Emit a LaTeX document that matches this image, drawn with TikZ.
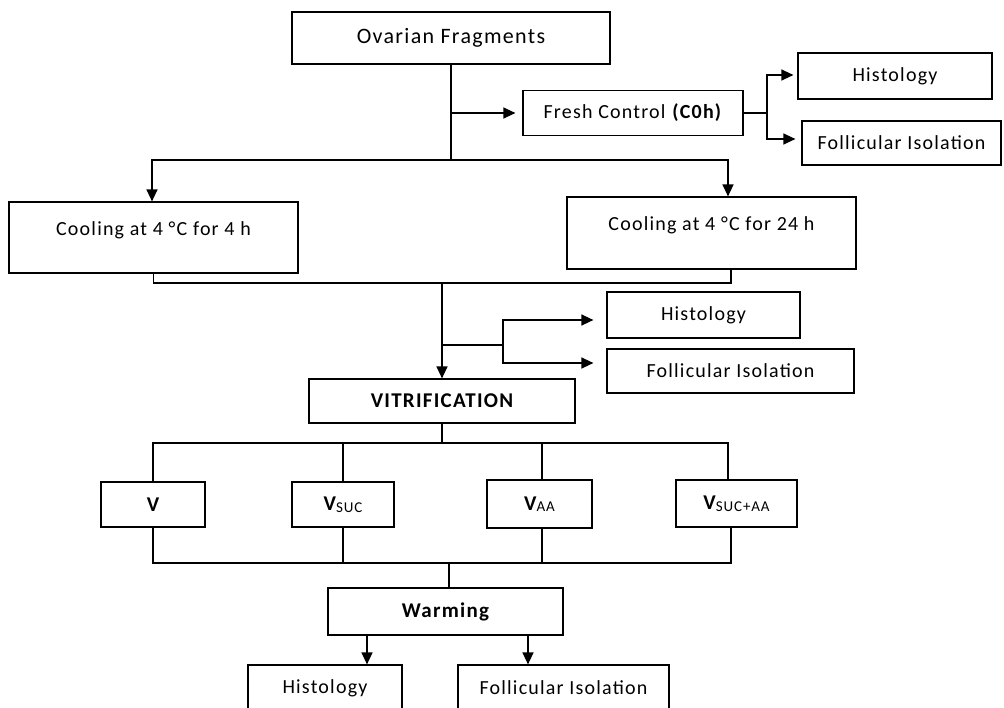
\documentclass[tikz,border=0pt]{standalone}
\usepackage{fontspec}
\setmainfont{Carlito}[LetterSpace=6]
\usetikzlibrary{arrows.meta}
\newcommand{\sub}[1]{\raisebox{-1.5pt}{\fontsize{15}{17}\selectfont\mdseries #1}}
\begin{document}
\begin{tikzpicture}[x=1pt,y=-1pt,
  box/.style 2 args={draw, line width=1.2pt, inner sep=0pt, minimum width=#1, minimum height=#2,
    font=\fontsize{20}{24}\selectfont, align=center},
  topbox/.style 2 args={draw, line width=1.2pt, inner sep=0pt, minimum width=#1,
    text height=33pt, text depth=#2, font=\fontsize{20}{24}\selectfont},
  ln/.style={line width=1.3pt},
  arr/.style={ln, -{Triangle[length=12pt,width=11pt]}}]
\useasboundingbox (0,0) rectangle (1004,707);
\fill[white] (0,0) rectangle (1004,707);
\clip (0,0) rectangle (1004,707);

% nodes
\node[box={318pt}{52pt}, font=\fontsize{22}{26}\selectfont] (of) at (451,38) {Ovarian Fragments};
\node[box={220pt}{45pt}] (fc) at (633,113) {Fresh Control \textbf{(C0h)}};
\node[box={194pt}{46pt}] (h1) at (895,76) {Histology};
\node[box={199pt}{44pt}] (f1) at (901.5,143) {Follicular Isolation};
\node[topbox={289pt}{38pt}] (c4) at (153.5,237.5) {Cooling at 4 °C for 4 h};
\node[topbox={289pt}{39pt}] (c24) at (711.5,233) {Cooling at 4 °C for 24 h};
\node[box={193pt}{46pt}] (h2) at (703.5,315) {Histology};
\node[box={247pt}{44pt}] (f2) at (730.5,371) {Follicular Isolation};
\node[box={266pt}{44pt}, font=\fontsize{21}{25}\selectfont\bfseries] (vit) at (442,401) {VITRIFICATION};
\node[box={104pt}{45pt}, font=\fontsize{21}{25}\selectfont\bfseries] (v) at (153,504.5) {V};
\node[box={102pt}{45pt}, font=\fontsize{21}{25}\selectfont\bfseries] (vs) at (343,504.5) {V\sub{SUC}};
\node[box={105pt}{48pt}, font=\fontsize{21}{25}\selectfont\bfseries] (va) at (539.5,504) {V\sub{AA}};
\node[box={121pt}{47pt}, font=\fontsize{21}{25}\selectfont\bfseries] (vsa) at (736.5,503.5) {V\sub{SUC+AA}};
\node[box={235pt}{47pt}, font=\fontsize{21}{25}\selectfont\bfseries] (w) at (445.5,611.5) {Warming};
\node[box={154pt}{46pt}] (h3) at (325,688) {Histology};
\node[box={211pt}{46pt}] (f3) at (563.5,688) {Follicular Isolation};

% junctions
\coordinate (jA) at (451,113);
\coordinate (jB) at (451,160);
\coordinate (jC) at (767,113);
\coordinate (jD) at (442,283);
\coordinate (jE) at (442,345);
\coordinate (jF) at (503,345);
\coordinate (jG) at (442,443);
\coordinate (jH) at (449,563);
\coordinate (wa) at (367,635);
\coordinate (wb) at (528,635);

% connectors
\draw[ln] (of.south) -- (jB);
\draw[arr, shorten >=7pt] (jA) -- (fc.west);
\draw[arr] (jB) -| ([xshift=-1.5pt]c4.north);
\draw[arr] (jB) -| ([xshift=16.5pt]c24.north);
\draw[ln] (fc.east) -- (jC);
\draw[arr, shorten >=4pt] (jC) |- ([yshift=1pt]h1.west);
\draw[arr, shorten >=6pt] (jC) |- ([yshift=4pt]f1.west);
\draw[ln] (c4.south) |- (jD);
\draw[ln] ([xshift=19.5pt]c24.south) |- (jD);
\draw[arr] (jD) -- (vit.north);
\draw[ln] (jE) -- (jF);
\draw[arr, shorten >=13pt] (jF) |- ([yshift=-5pt]h2.west);
\draw[arr, shorten >=13pt] (jF) |- ([yshift=8pt]f2.west);
\draw[ln] (vit.south) -- (jG);
\draw[ln] (jG) -| (v.north);
\draw[ln] (jG) -| (vs.north);
\draw[ln] (jG) -| ([xshift=2.5pt]va.north);
\draw[ln] (jG) -| ([xshift=-8.5pt]vsa.north);
\draw[ln] (v.south) |- (jH);
\draw[ln] (vs.south) |- (jH);
\draw[ln] ([xshift=2.5pt]va.south) |- (jH);
\draw[ln] ([xshift=-5.5pt]vsa.south) |- (jH);
\draw[ln] (jH) -- (jH |- w.north);
\draw[arr] (wa) -- (wa |- h3.north);
\draw[arr] (wb) -- (wb |- f3.north);
\end{tikzpicture}
\end{document}
